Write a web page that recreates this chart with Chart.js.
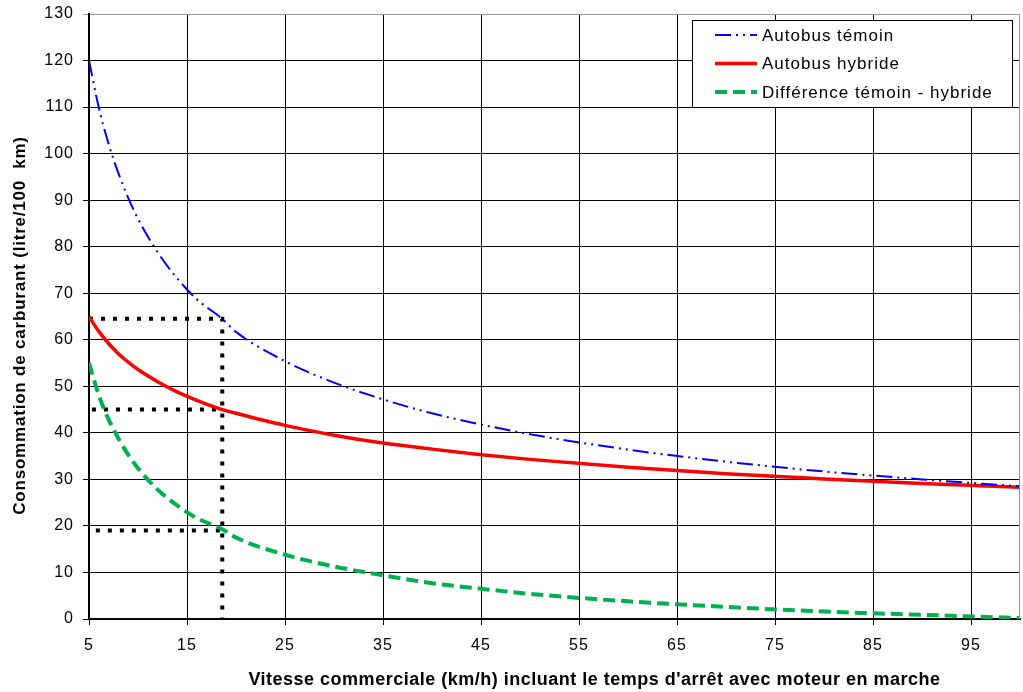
<!DOCTYPE html>
<html>
<head>
<meta charset="utf-8">
<script src="https://cdn.jsdelivr.net/npm/chart.js@4/dist/chart.umd.min.js"></script>
<style>
body { margin: 0; background: #fff; }
#wrap { width: 1023px; height: 692px; }
</style>
</head>
<body>
<div id="wrap"><canvas id="chart" width="1023" height="692"></canvas></div>
<script>
// valeurs
const vitesse = [5, 6, 7, 8, 9, 10, 12, 14, 16, 18.6, 20, 25, 30, 35, 40, 45, 50, 60, 70, 80, 90, 100];
const temoin = [120, 109.9, 102.1, 95.8, 90.5, 86.0, 78.8, 73.2, 68.7, 64.5, 61.7, 55.4, 50.8, 47.2, 44.2, 41.8, 39.7, 36.4, 33.8, 31.7, 30.0, 28.5];
const hybride = [65, 61.8, 59.2, 57.0, 55.2, 53.6, 51.0, 48.8, 47.0, 45.0, 44.2, 41.6, 39.5, 37.8, 36.5, 35.3, 34.3, 32.6, 31.2, 30.1, 29.1, 28.3];
const difference = [55, 48.1, 42.9, 38.8, 35.3, 32.4, 27.8, 24.4, 21.7, 19.3, 17.5, 13.8, 11.3, 9.4, 7.7, 6.5, 5.4, 3.8, 2.6, 1.6, 0.9, 0.2];

const xTicks = [5, 15, 25, 35, 45, 55, 65, 75, 85, 95];

// lignes de lecture pointillées
const guideX = 18.6;
const guideY = [64.5, 45, 19];
const guideStart = [5, 5.3, 5.7];

const xTitle = "Vitesse commerciale (km/h) incluant le temps d'arrêt avec moteur en marche";
const yTitle = 'Consommation de carburant (litre/100  km)';

const FONT = '"Liberation Sans", Arial, sans-serif';

function series(ys) {
    return vitesse.map((x, i) => ({ x: x, y: ys[i] }));
}

const guides = guideY.map((y, i) => {
    const pts = [{ x: guideStart[i], y: y }, { x: guideX, y: y }];
    if (i === 0) pts.push({ x: guideX, y: 0 });
    return {
        data: pts,
        borderColor: '#000',
        borderWidth: 4,
        borderDash: [4, 8],
        borderCapStyle: 'butt',
        pointRadius: 0,
        tension: 0
    };
});

const decor = {
    id: 'decor',
    beforeDraw(chart) {
        // le texte du modèle est un peu étiré en largeur
        chart.ctx.letterSpacing = '1px';
    },
    afterDraw(chart) {
        const { ctx, chartArea: a } = chart;
        ctx.save();

        // cadre droit
        ctx.strokeStyle = '#999';
        ctx.lineWidth = 1;
        ctx.beginPath();
        ctx.moveTo(a.right - 0.5, a.top);
        ctx.lineTo(a.right - 0.5, a.bottom);
        ctx.stroke();

        // titres des axes
        ctx.fillStyle = '#000';
        ctx.textAlign = 'center';
        ctx.textBaseline = 'middle';
        ctx.letterSpacing = '0.5px';
        ctx.font = 'bold 18px ' + FONT;
        ctx.fillText(xTitle, (a.left + a.right) / 2 + 40, 680);
        ctx.save();
        ctx.translate(20, (a.top + a.bottom) / 2 + 9);
        ctx.rotate(-Math.PI / 2);
        ctx.letterSpacing = '0.8px';
        ctx.font = 'bold 17px ' + FONT;
        ctx.fillText(yTitle, 0, 0);
        ctx.restore();

        // légende
        const items = chart.data.datasets.filter(d => d.label);
        const bx = a.right - 328, by = a.top + 6, bw = 320, bh = 87;
        ctx.fillStyle = '#fff';
        ctx.fillRect(bx, by, bw, bh);
        ctx.strokeStyle = '#000';
        ctx.lineWidth = 1;
        ctx.strokeRect(bx + 0.5, by + 0.5, bw, bh);
        ctx.font = '17px ' + FONT;
        ctx.letterSpacing = '1px';
        ctx.textAlign = 'left';
        items.forEach((d, i) => {
            const y = by + 15 + i * 28.5;
            ctx.save();
            ctx.strokeStyle = d.borderColor;
            ctx.lineWidth = d.borderWidth;
            ctx.setLineDash(d.borderDash || []);
            ctx.beginPath();
            ctx.moveTo(bx + 23, y);
            ctx.lineTo(bx + 65, y);
            ctx.stroke();
            ctx.restore();
            ctx.fillStyle = '#000';
            ctx.fillText(d.label, bx + 70, y + 1);
        });
        ctx.restore();
        ctx.letterSpacing = '0px';
    }
};

new Chart(document.getElementById('chart'), {
    type: 'line',
    data: {
        datasets: [
            {
                label: 'Autobus témoin',
                data: series(temoin),
                borderColor: '#0000ff',
                borderWidth: 2,
                borderDash: [16, 5, 2, 5, 2, 5],
                pointRadius: 0,
                cubicInterpolationMode: 'monotone'
            },
            {
                label: 'Autobus hybride',
                data: series(hybride),
                borderColor: '#ff0000',
                borderWidth: 3.5,
                pointRadius: 0,
                cubicInterpolationMode: 'monotone'
            },
            {
                label: 'Différence témoin - hybride',
                data: series(difference),
                borderColor: '#00b050',
                borderWidth: 4,
                borderDash: [12, 6],
                pointRadius: 0,
                cubicInterpolationMode: 'monotone'
            },
            ...guides
        ]
    },
    options: {
        responsive: false,
        animation: false,
        layout: { padding: { top: 14, right: 3, left: 0, bottom: 0 } },
        plugins: {
            legend: { display: false },
            tooltip: { enabled: false }
        },
        scales: {
            x: {
                type: 'linear',
                min: 5,
                max: 100,
                afterBuildTicks: scale => {
                    scale.ticks = xTicks.map(v => ({ value: v }));
                },
                afterFit: scale => {
                    scale.height = 73;
                    scale.paddingLeft = 0;
                    scale.paddingRight = 0;
                },
                grid: { color: '#000', lineWidth: 1, tickLength: 6 },
                border: { color: '#000', width: 2 },
                ticks: {
                    color: '#000',
                    padding: 11,
                    maxRotation: 0,
                    font: { family: FONT, size: 16 }
                }
            },
            y: {
                min: 0,
                max: 130,
                afterFit: scale => {
                    scale.width = 89;
                    scale.paddingTop = 0;
                    scale.paddingBottom = 0;
                },
                grid: {
                    color: c => (c.tick && c.tick.value === 130 ? '#999' : '#000'),
                    lineWidth: 1,
                    tickLength: 6
                },
                border: { color: '#000', width: 2 },
                ticks: {
                    stepSize: 10,
                    color: '#000',
                    padding: 9,
                    font: { family: FONT, size: 16 }
                }
            }
        }
    },
    plugins: [decor]
});
</script>
</body>
</html>
